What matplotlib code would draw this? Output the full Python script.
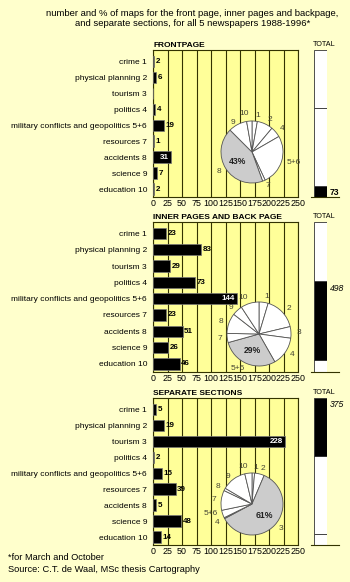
import matplotlib
matplotlib.use("Agg")
import matplotlib.pyplot as plt
import numpy as np
from matplotlib import font_manager

categories = ["crime 1", "physical planning 2", "tourism 3", "politics 4",
              "military conflicts and geopolitics 5+6", "resources 7",
              "accidents 8", "science 9", "education 10"]
slice_names = ["1", "2", "3", "4", "5+6", "7", "8", "9", "10"]
front = [2, 6, 0, 4, 19, 1, 31, 7, 2]
inner = [23, 83, 29, 73, 144, 23, 51, 26, 46]
separate = [5, 19, 228, 2, 15, 39, 5, 48, 14]
section_titles = ["FRONTPAGE", "INNER PAGES AND BACK PAGE", "SEPARATE SECTIONS"]
section_totals = [73, 498, 375]
x_ticks = list(range(0, 251, 25))

# font: narrow if available
names = {f.name for f in font_manager.fontManager.ttflist}
narrow = "Liberation Sans Narrow" if "Liberation Sans Narrow" in names else "Liberation Sans"
plt.rcParams["font.family"] = [narrow, "DejaVu Sans"]

W, H = 350, 582
BG = "#FFFFCC"
PANEL = "#FFFF99"
LINE = "#333300"


def box(l, t, r, b):
    return [l / W, 1 - b / H, (r - l) / W, (b - t) / H]


fig = plt.figure(figsize=(W / 100, H / 100), dpi=100, facecolor=BG)

fig.text(192.5 / W, 1 - 13 / H,
         "number and % of maps for the front page, inner pages and backpage,",
         ha="center", va="center", fontsize=6.8)
fig.text(192.5 / W, 1 - 23.5 / H,
         "and separate sections, for all 5 newspapers 1988-1996*",
         ha="center", va="center", fontsize=6.8)

panels = [(50, 197), (222, 372), (398, 545)]
pies = [(252, 152, 31), (259, 334, 32), (252, 504, 31)]
data = [front, inner, separate]

for k, (vals, (top, bot), (cx, cy, r)) in enumerate(zip(data, panels, pies)):
    # bar chart
    ax = fig.add_axes(box(153, top, 298, bot))
    ax.set_facecolor(PANEL)
    y = np.arange(len(categories))
    ax.barh(y, vals, height=0.7, color="black", edgecolor="#777777", linewidth=0.5, zorder=3)
    ax.set_xlim(0, 250)
    ax.set_ylim(8.5, -0.7)
    ax.set_xticks(x_ticks)
    ax.set_yticks(y, categories)
    ax.grid(axis="x", color=LINE, linewidth=0.8)
    ax.set_axisbelow(True)
    ax.tick_params(length=0, labelsize=6.0)
    ax.tick_params(axis="y", pad=4.3)
    ax.tick_params(axis="x", pad=1.5, labelsize=6.4)
    for s in ax.spines.values():
        s.set_color(LINE)
        s.set_linewidth(0.8)

    imax = int(np.argmax(vals))
    for i, v in enumerate(vals):
        if v == 0:
            continue
        if i == imax:
            ax.annotate(str(v), (v, i), xytext=(-1.5, 0), textcoords="offset points",
                        ha="right", va="center", color="white", fontsize=5.8,
                        weight="bold", zorder=4)
        else:
            ax.annotate(str(v), (v, i), xytext=(1.2, 0), textcoords="offset points",
                        ha="left", va="center", color="black", fontsize=5.8,
                        weight="bold", zorder=4)

    fig.text(153 / W, 1 - (top - 1) / H, section_titles[k], fontsize=6.0,
             weight="bold", va="bottom")

    # pie
    pax = fig.add_axes(box(cx - r, cy - r, cx + r, cy + r))
    pv = [v for v in vals if v > 0]
    pn = [n for v, n in zip(vals, slice_names) if v > 0]
    pmax = int(np.argmax(pv))
    cols = ["#CCCCCC" if i == pmax else "white" for i in range(len(pv))]
    wedges, texts = pax.pie(pv, labels=pn, startangle=90, counterclock=False,
                            colors=cols, labeldistance=1.17,
                            wedgeprops=dict(edgecolor="#555555", linewidth=0.6),
                            textprops=dict(fontsize=6.0, color="#444433"))
    pax.set_xlim(-1, 1)
    pax.set_ylim(-1, 1)
    for t in texts:
        t.set_clip_on(False)
    # push apart labels of thin neighbouring slices on the same side
    for a, b in zip(texts[:-1], texts[1:]):
        xa, ya = a.get_position()
        xb, yb = b.get_position()
        if np.sign(xa) == np.sign(xb) and abs(ya - yb) < 0.3 and abs(xa) > 0.5:
            gap = (0.3 - abs(ya - yb)) / 2
            if ya > yb:
                a.set_y(ya + gap)
                b.set_y(yb - gap)
            else:
                a.set_y(ya - gap)
                b.set_y(yb + gap)
    w = wedges[pmax]
    mid = np.deg2rad((w.theta1 + w.theta2) / 2)
    pct = round(100 * pv[pmax] / sum(pv))
    pax.text(0.55 * np.cos(mid), 0.55 * np.sin(mid), f"{pct}%", ha="center",
             va="center", fontsize=6.2, weight="bold", color="#222222")

    # total bar
    tax = fig.add_axes(box(314, top, 327, bot))
    bottom = 0
    for j, tot in enumerate(section_totals):
        tax.bar(0, tot, bottom=bottom, width=1, color="black" if j == k else "white",
                edgecolor="#333333", linewidth=0.6)
        if j == k:
            tax.annotate(str(tot), (0.5, bottom + tot), xytext=(2, -1.5),
                         textcoords="offset points", ha="left", va="top",
                         fontsize=6.2, weight="bold" if k == 0 else "normal",
                         style="normal" if k == 0 else "italic")
        bottom += tot
    tax.set_xlim(-0.5, 0.5)
    tax.set_ylim(0, sum(section_totals))
    tax.plot([-0.7, 1.4], [0, 0], color=LINE, linewidth=0.8, clip_on=False)
    tax.axis("off")
    fig.text(313 / W, 1 - (top - 1.5) / H, "TOTAL", fontsize=5.2, va="bottom")

fig.text(8 / W, 1 - 557 / H, "*for March and October", fontsize=6.7, va="center")
fig.text(8 / W, 1 - 570 / H, "Source: C.T. de Waal, MSc thesis Cartography",
         fontsize=6.7, va="center")

fig.savefig("out.png", dpi=100, facecolor=fig.get_facecolor())
